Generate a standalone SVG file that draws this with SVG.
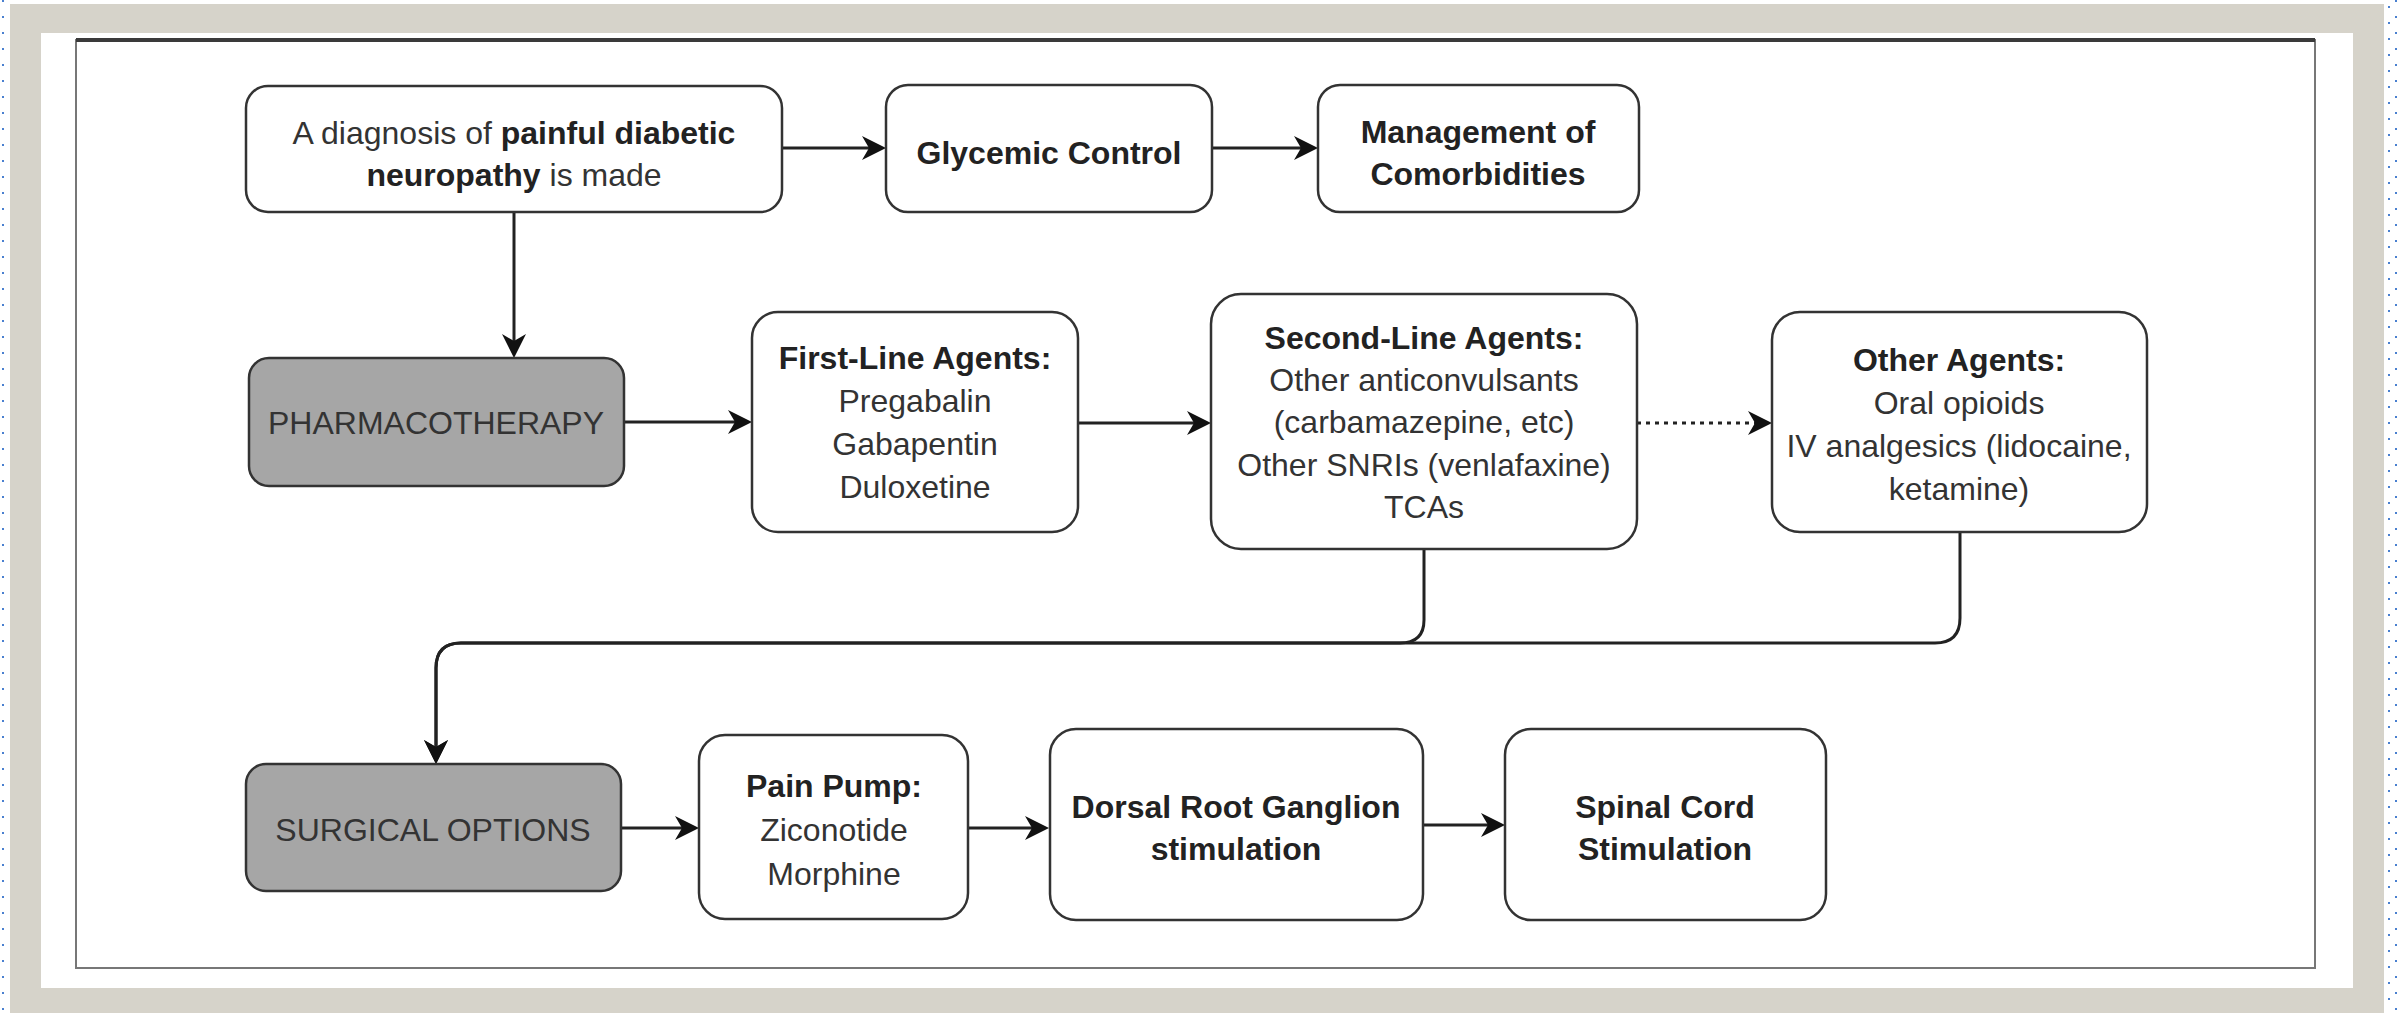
<svg xmlns="http://www.w3.org/2000/svg" width="2397" height="1013" viewBox="0 0 2397 1013">
<style>
.box{fill:#fff;stroke:#333;stroke-width:2.5}
.dark{fill:#a6a6a6;stroke:#333;stroke-width:2.5}
.t{font-family:"Liberation Sans",Arial,sans-serif;font-size:32px;fill:#333;text-anchor:middle}
.b{font-weight:bold;fill:#222}
.c{fill:none;stroke:#222;stroke-width:3}
</style>
<defs>
<marker id="arr" markerUnits="userSpaceOnUse" markerWidth="26" markerHeight="24" refX="16" refY="12" orient="auto" viewBox="0 0 26 24">
<path d="M0,0 L24,12 L0,24 L7,12 Z" fill="#111"/>
</marker>
</defs>
<rect x="0" y="0" width="2397" height="1013" fill="#fff"/>
<g id="frame">
<rect x="10" y="4" width="2374" height="1012" fill="#d6d3ca"/>
<rect x="41" y="33" width="2312" height="955" fill="#fff"/>
<rect x="76" y="40" width="2239" height="928" fill="#fff" stroke="#777" stroke-width="2"/>
<line x1="76" y1="40" x2="2315" y2="40" stroke="#3a3a3a" stroke-width="4"/>
<line x1="3" y1="0" x2="3" y2="1013" stroke="#4a80d0" stroke-width="2" stroke-dasharray="2 14"/>
<line x1="2389" y1="6" x2="2389" y2="1013" stroke="#4a80d0" stroke-width="2" stroke-dasharray="2 14"/>
<line x1="2396" y1="0" x2="2396" y2="1013" stroke="#4a80d0" stroke-width="2" stroke-dasharray="2 14"/>
</g>
<g id="connectors">
<line class="c" x1="782" y1="148" x2="878" y2="148" marker-end="url(#arr)"/>
<line class="c" x1="1212" y1="148" x2="1310" y2="148" marker-end="url(#arr)"/>
<line class="c" x1="514" y1="212" x2="514" y2="350" stroke-width="2.5" marker-end="url(#arr)"/>
<line class="c" x1="624" y1="422" x2="744" y2="422" marker-end="url(#arr)"/>
<line class="c" x1="1078" y1="423" x2="1203" y2="423" marker-end="url(#arr)"/>
<line class="c" x1="1637" y1="423" x2="1764" y2="423" stroke-dasharray="4 5" marker-end="url(#arr)"/>
<path class="c" d="M1960,532 L1960,618 Q1960,643 1935,643 L461,643 Q436,643 436,668 L436,756" stroke-width="2.5" marker-end="url(#arr)"/>
<path class="c" d="M1424,549 L1424,620 Q1424,643 1400,643 L461,643 Q436,643 436,668 L436,756" stroke-width="3.5" marker-end="url(#arr)"/>
<line class="c" x1="621" y1="828" x2="691" y2="828" marker-end="url(#arr)"/>
<line class="c" x1="968" y1="828" x2="1041" y2="828" marker-end="url(#arr)"/>
<line class="c" x1="1423" y1="825" x2="1497" y2="825" stroke="#8a8a8a" stroke-width="2.5" marker-end="url(#arr)"/>
</g>
<g id="diagnosis">
<rect class="box" x="246" y="86" width="536" height="126" rx="22"/>
<text class="t" x="514" y="144">A diagnosis of <tspan class="b">painful diabetic</tspan></text>
<text class="t" x="514" y="186"><tspan class="b">neuropathy</tspan> is made</text>
</g>
<g id="glycemic">
<rect class="box" x="886" y="85" width="326" height="127" rx="22"/>
<text class="t b" x="1049" y="164">Glycemic Control</text>
</g>
<g id="comorbidities">
<rect class="box" x="1318" y="85" width="321" height="127" rx="22"/>
<text class="t b" x="1478" y="143">Management of</text>
<text class="t b" x="1478" y="185">Comorbidities</text>
</g>
<g id="pharmacotherapy">
<rect class="dark" x="249" y="358" width="375" height="128" rx="20"/>
<text class="t" x="436" y="434">PHARMACOTHERAPY</text>
</g>
<g id="first-line">
<rect class="box" x="752" y="312" width="326" height="220" rx="26"/>
<text class="t b" x="915" y="369">First-Line Agents:</text>
<text class="t" x="915" y="412">Pregabalin</text>
<text class="t" x="915" y="455">Gabapentin</text>
<text class="t" x="915" y="498">Duloxetine</text>
</g>
<g id="second-line">
<rect class="box" x="1211" y="294" width="426" height="255" rx="30"/>
<text class="t b" x="1424" y="349">Second-Line Agents:</text>
<text class="t" x="1424" y="391">Other anticonvulsants</text>
<text class="t" x="1424" y="433">(carbamazepine, etc)</text>
<text class="t" x="1424" y="476">Other SNRIs (venlafaxine)</text>
<text class="t" x="1424" y="518">TCAs</text>
</g>
<g id="other-agents">
<rect class="box" x="1772" y="312" width="375" height="220" rx="28"/>
<text class="t b" x="1959" y="371">Other Agents:</text>
<text class="t" x="1959" y="414">Oral opioids</text>
<text class="t" x="1959" y="457">IV analgesics (lidocaine,</text>
<text class="t" x="1959" y="500">ketamine)</text>
</g>
<g id="surgical">
<rect class="dark" x="246" y="764" width="375" height="127" rx="20"/>
<text class="t" x="433" y="841">SURGICAL OPTIONS</text>
</g>
<g id="pain-pump">
<rect class="box" x="699" y="735" width="269" height="184" rx="26"/>
<text class="t b" x="834" y="797">Pain Pump:</text>
<text class="t" x="834" y="841">Ziconotide</text>
<text class="t" x="834" y="885">Morphine</text>
</g>
<g id="drg">
<rect class="box" x="1050" y="729" width="373" height="191" rx="26"/>
<text class="t b" x="1236" y="818">Dorsal Root Ganglion</text>
<text class="t b" x="1236" y="860">stimulation</text>
</g>
<g id="scs">
<rect class="box" x="1505" y="729" width="321" height="191" rx="26"/>
<text class="t b" x="1665" y="818">Spinal Cord</text>
<text class="t b" x="1665" y="860">Stimulation</text>
</g>
</svg>
